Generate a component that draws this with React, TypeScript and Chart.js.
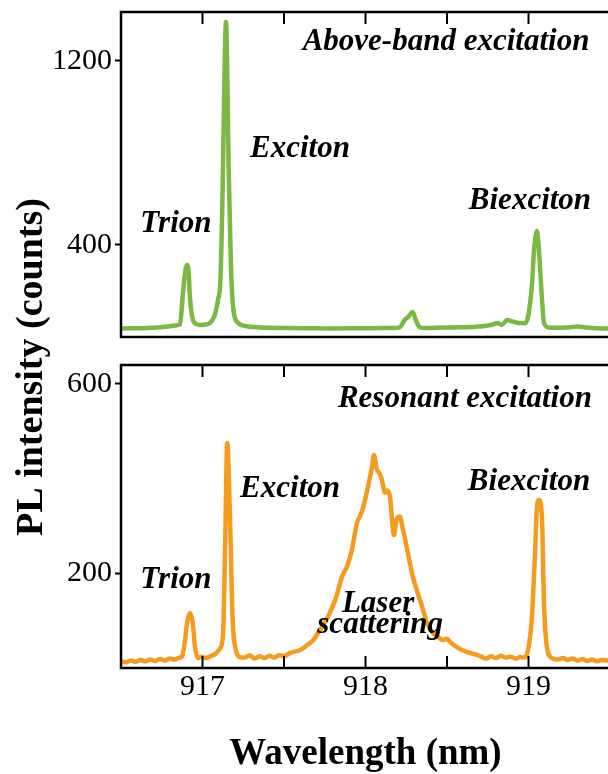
import React, { useEffect, useRef } from "react";
import { Chart, registerables } from "chart.js";

Chart.register(...registerables);

// ---------- data ----------
const X_MIN = 916.5;
const X_MAX = 919.5;
const X_TICK_LABELS = [917, 918, 919];
const X_TICK_MARKS = [917, 917.5, 918, 918.5, 919];

const TOP_Y_MAX = 1413;
const TOP_Y_TICKS = [400, 1200];
const BOTTOM_Y_MAX = 640;
const BOTTOM_Y_TICKS = [200, 600];

const GREEN_WL = [
  916.5, 916.56, 916.62, 916.68, 916.74, 916.79, 916.83, 916.862, 916.88, 916.895,
  916.905, 916.915, 916.923, 916.942, 916.965, 916.985, 917.015, 917.046, 917.075, 917.095,
  917.11, 917.125, 917.135, 917.144, 917.152, 917.16, 917.175, 917.19, 917.22, 917.26,
  917.32, 917.4, 917.5, 917.6, 917.7, 917.8, 917.9, 918.0, 918.1, 918.17,
  918.21, 918.24, 918.265, 918.29, 918.305, 918.316, 918.334, 918.37, 918.43, 918.5,
  918.58, 918.66, 918.72, 918.77, 918.81, 918.835, 918.87, 918.9, 918.93, 918.95,
  918.975, 918.997, 919.022, 919.034, 919.052, 919.064, 919.083, 919.095, 919.13, 919.2,
  919.26, 919.3, 919.35, 919.42, 919.5,
];
const GREEN_COUNTS = [
  37, 38, 38, 40, 42, 46, 50, 55, 190, 290,
  313, 280, 170, 74, 56, 52, 54, 61, 95, 161,
  250, 700, 1150, 1370, 1150, 740, 300, 117, 61, 48,
  43, 40, 39, 38, 38, 37, 38, 38, 39, 39,
  42, 74, 90, 109, 80, 61, 42, 39, 40, 41,
  42, 44, 47, 52, 61, 52, 74, 68, 62, 61,
  60, 87, 235, 378, 461, 378, 161, 61, 40, 40,
  42, 46, 41, 38, 36,
];

const ORANGE_WL = [
  916.5, 916.53, 916.56, 916.59, 916.62, 916.65, 916.68, 916.71, 916.74, 916.77,
  916.8, 916.83, 916.86, 916.874, 916.893, 916.905, 916.923, 916.94, 916.954, 916.972,
  916.995, 917.015, 917.05, 917.08, 917.105, 917.126, 917.138, 917.152, 917.169, 917.185,
  917.205, 917.23, 917.26, 917.29, 917.32, 917.35, 917.38, 917.41, 917.44, 917.47,
  917.5, 917.537, 917.6, 917.64, 917.68, 917.72, 917.76, 917.78, 917.82, 917.856,
  917.886, 917.917, 917.948, 917.966, 917.985, 918.015, 918.04, 918.052, 918.07, 918.085,
  918.1, 918.12, 918.135, 918.15, 918.175, 918.19, 918.21, 918.23, 918.26, 918.29,
  918.32, 918.353, 918.377, 918.414, 918.445, 918.475, 918.5, 918.518, 918.56, 918.62,
  918.68, 918.71, 918.74, 918.77, 918.8, 918.83, 918.86, 918.89, 918.92, 918.95,
  918.975, 918.997, 919.02, 919.04, 919.052, 919.064, 919.083, 919.095, 919.113, 919.144,
  919.18, 919.21, 919.24, 919.27, 919.3, 919.33, 919.36, 919.39, 919.42, 919.45,
  919.5,
];
const ORANGE_COUNTS = [
  14, 12, 16, 13, 17, 14, 18, 15, 19, 16,
  20, 18, 22, 24, 59, 95, 116, 95, 44, 21,
  24, 21, 25, 30, 40, 70, 243, 475, 313, 102,
  38, 23, 22, 27, 20, 25, 21, 26, 22, 27,
  25, 32, 38, 48, 59, 80, 102, 116, 150, 193,
  214, 250, 307, 320, 338, 383, 425, 450, 419, 412,
  398, 370, 375, 362, 281, 313, 320, 292, 243, 193,
  159, 123, 95, 74, 66, 59, 62, 55, 44, 34,
  28, 24, 20, 25, 21, 26, 22, 24, 20, 23,
  22, 38, 102, 243, 341, 355, 313, 138, 44, 21,
  18, 21, 17, 20, 16, 19, 15, 18, 14, 17,
  15,
];

const TOP_NOTES = ["Above-band excitation", "Exciton", "Trion", "Biexciton"];
const TOP_NOTE_WL = [918.494, 917.598, 916.837, 919.009];
const TOP_NOTE_COUNTS = [1246, 783, 457, 557];

const BOTTOM_NOTES = ["Resonant excitation", "Exciton", "Trion", "Biexciton", "Laser", "scattering"];
const BOTTOM_NOTE_WL = [918.61, 917.537, 916.837, 919.003, 918.077, 918.09];
const BOTTOM_NOTE_COUNTS = [552, 362, 169, 377, 119, 74];

const X_TITLE = "Wavelength (nm)";
const Y_TITLE = "PL intensity (counts)";

const GREEN = "#7cb844";
const ORANGE = "#f59c1e";
const SERIF = '"Liberation Serif", "Times New Roman", serif';

Chart.defaults.font.family = SERIF;
Chart.defaults.color = "#000";

// ---------- plugins ----------
const framePlugin = {
  id: "frame",
  afterDatasetsDraw(chart: any, _a: any, opts: any) {
    const { ctx, chartArea: a, scales } = chart;
    ctx.save();
    ctx.strokeStyle = "#000";
    ctx.lineWidth = 2.5;
    ctx.strokeRect(a.left, a.top, a.right - a.left, a.bottom - a.top);
    ctx.lineWidth = 2;
    ctx.beginPath();
    for (const v of X_TICK_MARKS) {
      const px = scales.x.getPixelForValue(v);
      if (opts.top) {
        ctx.moveTo(px, a.top);
        ctx.lineTo(px, a.top + opts.len);
      }
      if (opts.bottom) {
        ctx.moveTo(px, a.bottom);
        ctx.lineTo(px, a.bottom - opts.len);
      }
    }
    ctx.stroke();
    ctx.restore();
  },
};

const notesPlugin = {
  id: "notes",
  afterDatasetsDraw(chart: any, _a: any, opts: any) {
    const { ctx, scales } = chart;
    ctx.save();
    ctx.fillStyle = "#000";
    ctx.font = `italic bold ${opts.size}px ${SERIF}`;
    ctx.textAlign = "center";
    ctx.textBaseline = "alphabetic";
    opts.texts.forEach((t: string, i: number) => {
      ctx.fillText(t, scales.x.getPixelForValue(opts.xs[i]), scales.y.getPixelForValue(opts.ys[i]));
    });
    ctx.restore();
  },
};

const sideTitlePlugin = {
  id: "sideTitle",
  afterDraw(chart: any, _a: any, opts: any) {
    if (!opts || !opts.text) return;
    const { ctx } = chart;
    ctx.save();
    ctx.translate(opts.x, opts.y);
    ctx.rotate(-Math.PI / 2);
    ctx.fillStyle = "#000";
    ctx.font = `bold ${opts.size}px ${SERIF}`;
    ctx.textAlign = "center";
    ctx.textBaseline = "middle";
    ctx.fillText(opts.text, 0, 0);
    ctx.restore();
  },
};

function yAxis(max: number, ticks: number[]) {
  return {
    type: "linear",
    min: 0,
    max,
    afterBuildTicks: (s: any) => {
      s.ticks = ticks.map((v) => ({ value: v }));
    },
    afterFit: (s: any) => {
      s.width = 121;
    },
    ticks: { font: { size: 30 }, color: "#000", padding: 3, callback: (v: any) => String(v) },
    grid: { drawOnChartArea: false, drawTicks: true, tickLength: 6, tickWidth: 2, tickColor: "#000" },
    border: { display: false },
  };
}

function TopPanel() {
  const ref = useRef<HTMLCanvasElement>(null);
  useEffect(() => {
    const chart = new Chart(ref.current as HTMLCanvasElement, {
      type: "line",
      data: {
        datasets: [
          {
            data: GREEN_WL.map((x, i) => ({ x, y: GREEN_COUNTS[i] })),
            borderColor: GREEN,
            borderWidth: 4.5,
            pointRadius: 0,
            cubicInterpolationMode: "monotone",
            fill: false,
          },
        ],
      },
      options: {
        responsive: false,
        animation: false,
        layout: { padding: { left: 0, right: 30, top: 32, bottom: 43 } },
        scales: {
          x: { type: "linear", min: X_MIN, max: X_MAX, display: false },
          y: yAxis(TOP_Y_MAX, TOP_Y_TICKS),
        },
        plugins: {
          legend: { display: false },
          tooltip: { enabled: false },
          frame: { top: true, bottom: false, len: 12 },
          notes: { texts: TOP_NOTES, xs: TOP_NOTE_WL, ys: TOP_NOTE_COUNTS, size: 31 },
        },
      } as any,
      plugins: [framePlugin, notesPlugin],
    });
    return () => chart.destroy();
  }, []);
  return (
    <div style={{ position: "absolute", left: 0, top: -20 }}>
      <canvas ref={ref} width={640} height={400} style={{ display: "block" }} />
    </div>
  );
}

function BottomPanel() {
  const ref = useRef<HTMLCanvasElement>(null);
  useEffect(() => {
    const chart = new Chart(ref.current as HTMLCanvasElement, {
      type: "line",
      data: {
        datasets: [
          {
            data: ORANGE_WL.map((x, i) => ({ x, y: ORANGE_COUNTS[i] })),
            borderColor: ORANGE,
            borderWidth: 4.5,
            pointRadius: 0,
            cubicInterpolationMode: "monotone",
            fill: false,
          },
        ],
      },
      options: {
        responsive: false,
        animation: false,
        layout: { padding: { left: 0, right: 30, top: 365, bottom: 0 } },
        scales: {
          x: {
            type: "linear",
            position: "bottom",
            min: X_MIN,
            max: X_MAX,
            afterBuildTicks: (s: any) => {
              s.ticks = X_TICK_LABELS.map((v) => ({ value: v }));
            },
            afterFit: (s: any) => {
              s.height = 106;
            },
            ticks: {
              font: { size: 30 },
              color: "#000",
              padding: 1,
              autoSkip: false,
              maxRotation: 0,
              callback: (v: any) => String(v),
            },
            grid: { display: false, drawTicks: false },
            border: { display: false },
            title: {
              display: true,
              text: X_TITLE,
              font: { size: 37, weight: "bold", lineHeight: 1.05 },
              color: "#000",
              padding: { top: 0, bottom: 0 },
            },
          },
          y: yAxis(BOTTOM_Y_MAX, BOTTOM_Y_TICKS),
        },
        plugins: {
          legend: { display: false },
          tooltip: { enabled: false },
          frame: { top: true, bottom: true, len: 12 },
          notes: { texts: BOTTOM_NOTES, xs: BOTTOM_NOTE_WL, ys: BOTTOM_NOTE_COUNTS, size: 31 },
          sideTitle: { text: Y_TITLE, x: 32, y: 367, size: 38 },
        },
      } as any,
      plugins: [framePlugin, notesPlugin, sideTitlePlugin],
    });
    return () => chart.destroy();
  }, []);
  return (
    <div style={{ position: "absolute", left: 0, top: 0 }}>
      <canvas ref={ref} width={640} height={774} style={{ display: "block" }} />
    </div>
  );
}

export default function App() {
  return (
    <div
      style={{
        position: "fixed",
        left: 0,
        top: 0,
        width: 608,
        height: 774,
        overflow: "hidden",
        background: "#fff",
      }}
    >
      <BottomPanel />
      <TopPanel />
    </div>
  );
}
